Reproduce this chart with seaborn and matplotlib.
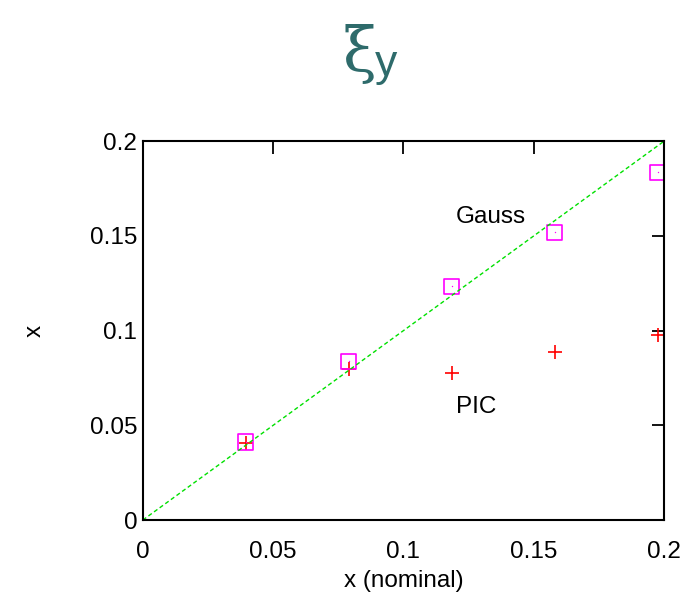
import matplotlib
matplotlib.use("Agg")
import matplotlib.pyplot as plt
import seaborn as sns
import pandas as pd

nominal = [0.0395, 0.079, 0.1185, 0.158, 0.1975]
gauss = [0.0412, 0.0839, 0.1235, 0.152, 0.1836]
pic = [0.0406, 0.0797, 0.0776, 0.0887, 0.0976]
diag = [0.0, 0.2]

sns.set_theme(style="white")
plt.rcParams['font.family'] = ['Liberation Sans', 'DejaVu Sans']
plt.rcParams['text.color'] = 'black'
plt.rcParams['axes.labelcolor'] = 'black'

fig = plt.figure(figsize=(7, 6.14), dpi=100)
ax = fig.add_axes([0.204, 0.153, 0.7446, 0.617])

df = pd.DataFrame({"nominal": nominal, "gauss": gauss, "pic": pic})
sns.lineplot(x=diag, y=diag, ax=ax, color="#00e000", linestyle=(0, (3, 2)), linewidth=1)
sns.scatterplot(data=df, x="nominal", y="pic", ax=ax, marker="+", color="red", s=110, linewidth=1.2)
sns.scatterplot(data=df, x="nominal", y="gauss", ax=ax, marker="s", facecolor="none",
                edgecolor="#ff00ff", s=120, linewidth=1.2)
sns.scatterplot(data=df, x="nominal", y="gauss", ax=ax, marker=".", color="#ff00ff", s=4, linewidth=0)

ax.set_xlim(0, 0.2)
ax.set_ylim(0, 0.2)
ax.set_xticks([0, 0.05, 0.1, 0.15, 0.2])
ax.set_yticks([0, 0.05, 0.1, 0.15, 0.2])
ax.set_xticklabels(["0", "0.05", "0.1", "0.15", "0.2"])
ax.set_yticklabels(["0", "0.05", "0.1", "0.15", "0.2"])
ax.tick_params(direction="in", length=9, width=1.3, top=True, right=True, labelsize=17.5, colors="black")
ax.tick_params(axis="x", pad=15)
ax.tick_params(axis="y", pad=4)
for s in ax.spines.values():
    s.set_color("black")
    s.set_linewidth(1.5)
ax.set_xlabel("x (nominal)", fontsize=17.5, labelpad=5)
ax.set_ylabel("x", fontsize=17.5, labelpad=32)

ax.text(0.120, 0.160, "Gauss", fontsize=17.5, ha="left", va="center")
ax.text(0.120, 0.0596, "PIC", fontsize=17.5, ha="left", va="center")

fig.text(0.538, 0.912, "ξ", fontsize=44, color="#2e6b6b", ha="right", va="center",
         family=['DejaVu Serif'])
fig.text(0.536, 0.895, "y", fontsize=32, color="#2e6b6b", ha="left", va="center")

fig.savefig("out.png", dpi=100, facecolor="white")
